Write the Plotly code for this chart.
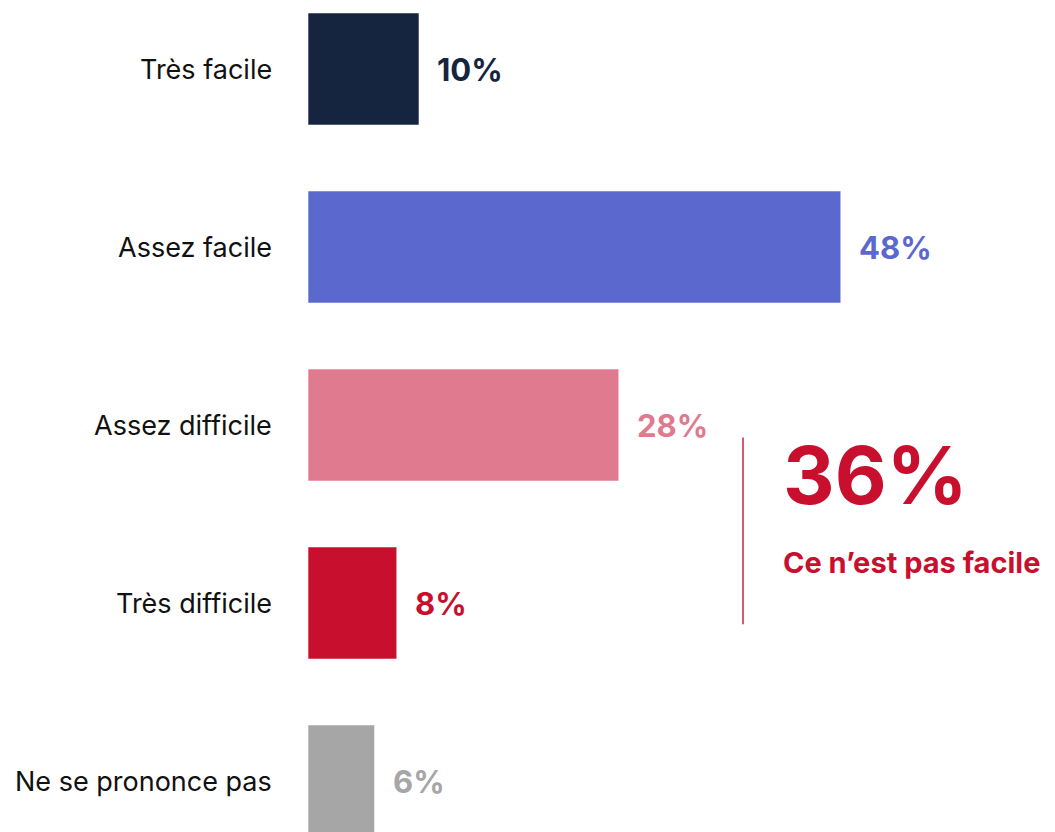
import plotly.graph_objects as go

# Survey answers and shares (%)
categories = ["Très facile", "Assez facile", "Assez difficile", "Très difficile", "Ne se prononce pas"]
values = [10, 48, 28, 8, 6]
colors = ["#15253F", "#5B68CD", "#E07A8F", "#C8102E", "#A6A6A6"]
value_labels = ["10%", "48%", "28%", "8%", "6%"]

# Summary of the two "difficult" answers
total_label = "36%"
total_caption = "Ce n’est pas facile"
accent = "#C8102E"

W, H = 1055, 832
LEFT = 308
PX_PER_PCT = 11.1
ROW = 178            # pixels between bar centres
FIRST_CENTRE = 69    # pixel of first bar centre

ypos = list(range(len(categories)))
y_top = -FIRST_CENTRE / ROW
y_bot = y_top + H / ROW

fig = go.Figure()
fig.add_trace(go.Bar(
    x=values, y=ypos, orientation="h",
    marker=dict(color=colors, line=dict(color="rgba(255,255,255,0.6)", width=1)),
    width=0.63, hoverinfo="skip",
))

font_main = "Inter, 'Liberation Sans', Arial, sans-serif"

for yv, v, lab, c in zip(ypos, values, value_labels, colors):
    fig.add_annotation(x=v, y=yv, text=f"<b>{lab}</b>", showarrow=False,
                       xanchor="left", yanchor="middle", xshift=16,
                       font=dict(family=font_main, size=31, color=c))

for yv, cat in zip(ypos, categories):
    fig.add_annotation(x=0, y=yv, text=cat, showarrow=False,
                       xanchor="right", yanchor="middle", xshift=-34,
                       font=dict(family=font_main, size=27, color="#111111"))

# Bracket line and summary figure
line_x = (743 - LEFT) / PX_PER_PCT
fig.add_shape(type="line", x0=line_x, x1=line_x, y0=2.07, y1=3.12,
              xref="x", yref="y", line=dict(color="#D35A73", width=2))
fig.add_annotation(x=line_x, y=2.28, text=f"<b>{total_label}</b>", showarrow=False,
                   xanchor="left", yanchor="middle", xshift=38,
                   font=dict(family=font_main, size=80, color=accent))
fig.add_annotation(x=line_x, y=2.77, text=f"<b>{total_caption}</b>", showarrow=False,
                   xanchor="left", yanchor="middle", xshift=38,
                   font=dict(family=font_main, size=29, color=accent))

fig.update_layout(
    width=W, height=H,
    margin=dict(l=LEFT, r=0, t=0, b=0),
    paper_bgcolor="white", plot_bgcolor="white",
    showlegend=False,
    xaxis=dict(range=[0, (W - LEFT) / PX_PER_PCT], visible=False, fixedrange=True),
    yaxis=dict(range=[y_bot, y_top], visible=False, fixedrange=True),
)

fig.write_html("out.html")
